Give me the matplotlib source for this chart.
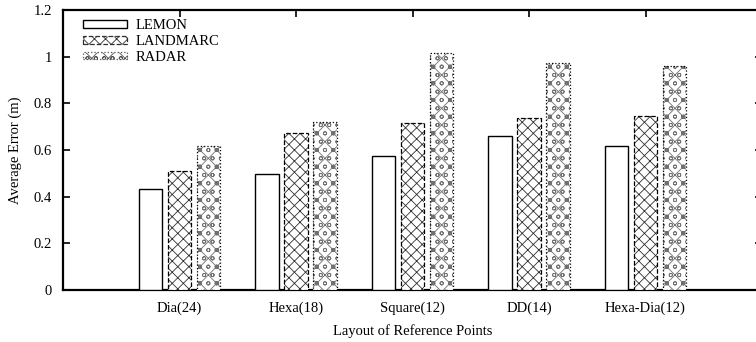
import numpy as np
import matplotlib
matplotlib.use("Agg")
import matplotlib.pyplot as plt
from matplotlib.patches import Patch

plt.rcParams['font.family'] = ['Liberation Serif', 'DejaVu Serif']
plt.rcParams['hatch.linewidth'] = 0.6

# Data
layouts = ["Dia(24)", "Hexa(18)", "Square(12)", "DD(14)", "Hexa-Dia(12)"]
lemon = [0.433, 0.496, 0.576, 0.659, 0.616]
landmarc = [0.511, 0.674, 0.717, 0.739, 0.747]
radar = [0.616, 0.719, 1.017, 0.974, 0.961]
series_names = ["LEMON", "LANDMARC", "RADAR"]

fig = plt.figure(figsize=(7.56, 3.42), dpi=100)
ax = fig.add_axes([63/756, 1 - 290/342, (762 - 63)/756, 280/342])

x = np.arange(1, len(layouts) + 1)
w = 0.2
off = 0.25
ax.bar(x - off, lemon, w, facecolor='white', edgecolor='black', linewidth=1.0, zorder=3)
# LANDMARC: cross hatch, dashed outline
ax.bar(x, landmarc, w, facecolor='white', edgecolor='#303030', linewidth=0,
       hatch='xxx', zorder=3)
ax.bar(x, landmarc, w, facecolor='none', edgecolor='black', linewidth=0.9,
       linestyle='--', zorder=4)
# RADAR: grey hatch fill, then dotted black outline on top
ax.bar(x + off, radar, w, facecolor='white', edgecolor='#707070', linewidth=0,
       hatch='xxoo', zorder=3)
ax.bar(x + off, radar, w, facecolor='none', edgecolor='black', linewidth=0.9,
       linestyle=':', zorder=4)

ax.set_xlim(0, 6)
ax.set_ylim(0, 1.2)
ax.set_xticks(x)
ax.set_xticklabels(layouts, fontsize=10.5)
ax.set_yticks([0, 0.2, 0.4, 0.6, 0.8, 1.0, 1.2])
ax.set_yticklabels(['0', '0.2', '0.4', '0.6', '0.8', '1', '1.2'], fontsize=10.5)
ax.tick_params(axis='both', direction='in', length=5, width=1.2,
               top=True, right=True, bottom=False, pad=8)

for s in ['left', 'top', 'bottom']:
    ax.spines[s].set_linewidth(1.6)
ax.spines['right'].set_visible(False)

ax.set_ylabel("Average Error (m)", fontsize=10.5, labelpad=8)
ax.set_xlabel("Layout of Reference Points", fontsize=10.5, labelpad=7)

handles = [
    Patch(facecolor='white', edgecolor='black', linewidth=1.0),
    Patch(facecolor='white', edgecolor='#303030', linewidth=0.9, linestyle='--', hatch='xxx'),
    Patch(facecolor='white', edgecolor='#505050', linewidth=0.9, linestyle=':', hatch='xxoo'),
]
ax.legend(handles, series_names, loc='upper left', frameon=False, fontsize=10.5,
          handlelength=3.0, handleheight=0.45, labelspacing=0.18, handletextpad=0.6,
          borderaxespad=0.25, bbox_to_anchor=(0.015, 1.0))

fig.savefig("out.png", dpi=100)
